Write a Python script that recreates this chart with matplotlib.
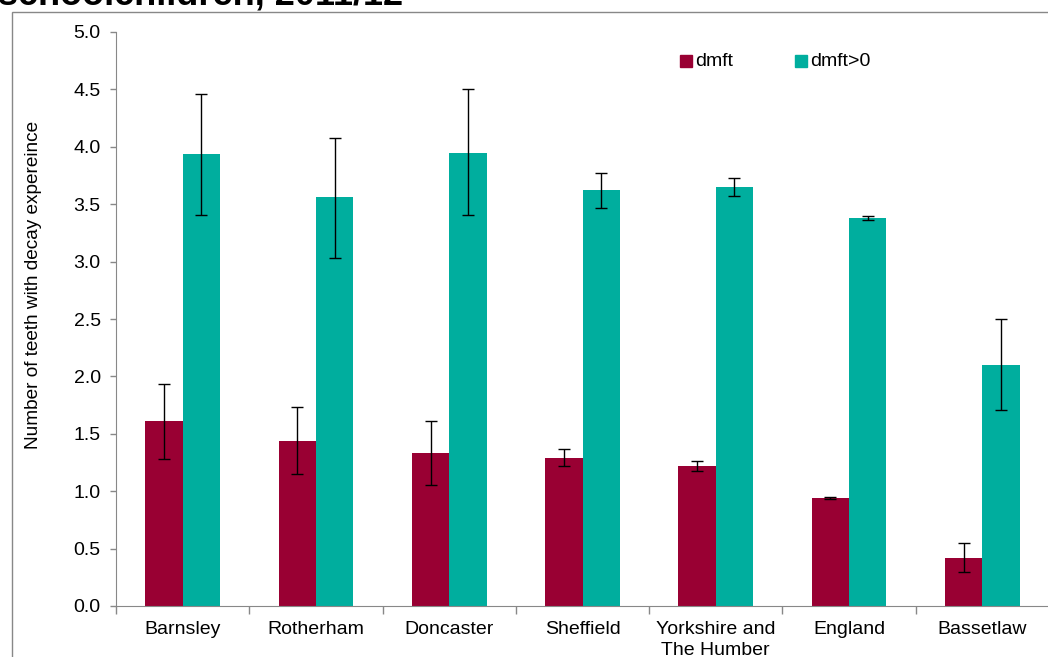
import matplotlib
matplotlib.use("Agg")
import matplotlib.pyplot as plt
from matplotlib.patches import Rectangle
import numpy as np

plt.rcParams['font.family'] = ['Liberation Sans', 'DejaVu Sans']

categories = ["Barnsley", "Rotherham", "Doncaster", "Sheffield", "Yorkshire and\nThe Humber", "England", "Bassetlaw"]
dmft = [1.61, 1.44, 1.33, 1.29, 1.22, 0.94, 0.42]
dmft_lo = [1.28, 1.15, 1.05, 1.22, 1.18, 0.93, 0.30]
dmft_hi = [1.93, 1.73, 1.61, 1.37, 1.26, 0.95, 0.55]
dmft0 = [3.94, 3.56, 3.95, 3.62, 3.65, 3.38, 2.10]
dmft0_lo = [3.41, 3.03, 3.41, 3.47, 3.57, 3.36, 1.71]
dmft0_hi = [4.46, 4.08, 4.50, 3.77, 3.73, 3.40, 2.50]
yticks = [0.0, 0.5, 1.0, 1.5, 2.0, 2.5, 3.0, 3.5, 4.0, 4.5, 5.0]
series_names = ["dmft", "dmft>0"]

c1 = "#990033"
c2 = "#00AE9E"
FS = 14

fig = plt.figure(figsize=(10.48, 6.57), dpi=100)
ax = fig.add_axes([116/1048, 51/657, 933/1048, 574/657])

x = np.arange(len(categories))
w = 0.28
d = np.array(dmft); d0 = np.array(dmft0)
ax.bar(x - w/2, d, w, color=c1, zorder=2)
ax.bar(x + w/2, d0, w, color=c2, zorder=2)
ax.errorbar(x - w/2, d, yerr=[d - np.array(dmft_lo), np.array(dmft_hi) - d],
            fmt='none', ecolor='black', elinewidth=1, capsize=4, capthick=1, zorder=3)
ax.errorbar(x + w/2, d0, yerr=[d0 - np.array(dmft0_lo), np.array(dmft0_hi) - d0],
            fmt='none', ecolor='black', elinewidth=1, capsize=4, capthick=1, zorder=3)

ax.set_xlim(-0.5, len(categories) - 0.5)
ax.set_ylim(0, 5)
ax.set_yticks(yticks)
ax.set_yticklabels([f"{v:.1f}" for v in yticks], fontsize=FS)
ax.set_xticks(x)
ax.set_xticklabels(categories, fontsize=FS, linespacing=1.25)
ax.tick_params(axis='x', length=0, pad=11)
ax.set_xticks(np.arange(len(categories) + 1) - 0.5, minor=True)
ax.tick_params(axis='x', which='minor', length=6, color='#888888', width=1)
ax.tick_params(axis='y', length=4, color='#888888', width=1, pad=7)

for s in ['top', 'right']:
    ax.spines[s].set_visible(False)
ax.spines['left'].set_color('#888888')
ax.spines['bottom'].set_color('#888888')

ax.set_ylabel("Number of teeth with decay expereince", fontsize=13.7)
ax.yaxis.set_label_coords(-0.079, 0.56)

# legend drawn manually
leg_x = [680, 795]
for name, col, lx in zip(series_names, [c1, c2], leg_x):
    fig.patches.append(Rectangle((lx/1048, 1 - 67/657), 12/1048, 12/657,
                                 transform=fig.transFigure, color=col))
    fig.text((lx + 15)/1048, 1 - 61/657, name, fontsize=FS, va='center', ha='left')

fig.patches.append(Rectangle((12/1048, -0.1), 1.2, 1 - 12/657 + 0.1, transform=fig.transFigure,
                             fill=False, edgecolor='#888888', linewidth=1))

fig.text(-2/1048, 1 - 4/657, "schoolchildren, 2011/12", fontsize=26, fontweight='bold',
         va='baseline', ha='left')

fig.savefig("out.png", dpi=100)
